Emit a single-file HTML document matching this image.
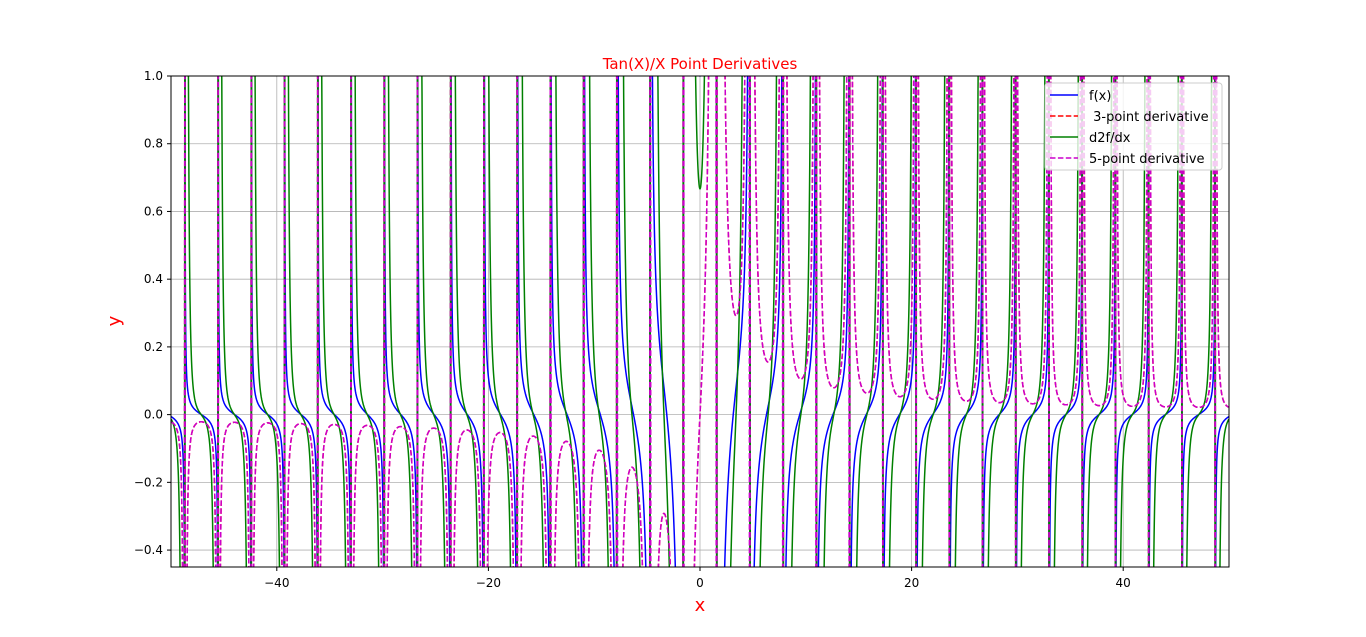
<!DOCTYPE html>
<html><head><meta charset="utf-8"><style>
html,body{margin:0;background:#fff;overflow:hidden;width:1366px;height:637px;}
svg{display:block;}
svg text{font-family:"DejaVu Sans","Liberation Sans",sans-serif;}
</style></head><body>
<svg width="1366" height="637" xmlns="http://www.w3.org/2000/svg">
<defs><clipPath id="pc"><rect x="171" y="76" width="1058" height="491"/></clipPath></defs>
<rect x="0" y="0" width="1366" height="637" fill="#fff"/>
<g id="grid"></g>
<g id="series" clip-path="url(#pc)"></g>
<rect x="171" y="76" width="1058" height="491" fill="none" stroke="#000" stroke-width="1"/>
<g id="ticks"></g>
<text x="700" y="69" text-anchor="middle" font-size="15" fill="red">Tan(X)/X Point Derivatives</text>
<text x="700" y="611" text-anchor="middle" font-size="18" fill="red">x</text>
<text x="120" y="321" text-anchor="middle" font-size="18" fill="red" transform="rotate(-90 120 321)">y</text>
<g>
<rect x="1045" y="83" width="177" height="87" rx="3" fill="#fff" fill-opacity="0.8" stroke="#ccc"/>
<g><line x1="1050" x2="1078" y1="95" y2="95" stroke="blue" stroke-width="1.5"/><text x="1089" y="100" font-size="13">f(x)</text></g>
<g><line x1="1050" x2="1078" y1="116" y2="116" stroke="red" stroke-width="1.5" stroke-dasharray="5.5,2.4"/><text x="1089" y="121" font-size="13" xml:space="preserve"> 3-point derivative</text></g>
<g><line x1="1050" x2="1078" y1="137" y2="137" stroke="green" stroke-width="1.5"/><text x="1089" y="142" font-size="13">d2f/dx</text></g>
<g><line x1="1050" x2="1078" y1="158" y2="158" stroke="#c0c" stroke-width="1.5" stroke-dasharray="5.5,2.4"/><text x="1089" y="163" font-size="13">5-point derivative</text></g>
</g>
</svg>
<script>
const xTicks=[-40,-20,0,20,40];
const yTicks=[-0.4,-0.2,0.0,0.2,0.4,0.6,0.8,1.0];
const xDomain=[-50,50];
const yDomain=[-0.45,1.0];
const nSamples=5000;
const NS='http://www.w3.org/2000/svg';
const X=v=>171+(v-xDomain[0])/(xDomain[1]-xDomain[0])*1058;
const Y=v=>567-(v-yDomain[0])/(yDomain[1]-yDomain[0])*491;
const grid=document.getElementById('grid'),ticks=document.getElementById('ticks'),ser=document.getElementById('series');
function mk(t,a,p){const e=document.createElementNS(NS,t);for(const k in a)e.setAttribute(k,a[k]);p.appendChild(e);return e;}
xTicks.forEach(v=>{
 const g=mk('line',{x1:X(v),x2:X(v),y1:76,y2:567,stroke:'#b0b0b0','stroke-width':0.8},grid);
 
 
 mk('line',{x1:X(v),x2:X(v),y1:567,y2:571,stroke:'#000'},ticks);
 const t=mk('text',{x:X(v),y:587,'text-anchor':'middle','font-size':12},ticks);
 t.textContent=v<0?'\u2212'+Math.abs(v):String(v);
 
 
});
yTicks.forEach(v=>{
 const g=mk('line',{x1:171,x2:1229,y1:Y(v),y2:Y(v),stroke:'#b0b0b0','stroke-width':0.8},grid);
 
 
 mk('line',{x1:167,x2:171,y1:Y(v),y2:Y(v),stroke:'#000'},ticks);
 const t=mk('text',{x:163,y:Y(v)+4,'text-anchor':'end','font-size':12},ticks);
 t.textContent=(v<0?'\u2212':'')+Math.abs(v).toFixed(1);
 
 
});
const f=x=>Math.tan(x)/x;
const h=(xDomain[1]-xDomain[0])/(nSamples-1);
const xs=[];for(let i=0;i<nSamples;i++)xs.push(xDomain[0]+i*h);
const fv=xs.map(f);
const d3=fv.map((v,i)=>(i>1&&i<nSamples-2)?(fv[i+1]-fv[i-1])/(2*h):NaN);
const d5=fv.map((v,i)=>(i>1&&i<nSamples-2)?(-fv[i+2]+8*fv[i+1]-8*fv[i-1]+fv[i-2])/(12*h):NaN);
const d2=fv.map((v,i)=>(i>0&&i<nSamples-1)?(fv[i+1]-2*fv[i]+fv[i-1])/(h*h):NaN);
function draw(vals,color,dash,name){
 const lo=66,hi=577;
 let d='',c='',pen=false,prev=null;
 vals.forEach((v,i)=>{
  if(!isFinite(v)){return;}
  const raw=Y(v),px=X(xs[i]).toFixed(2);
  const py=Math.max(lo,Math.min(hi,raw));
  const inside=raw>=lo&&raw<=hi;
  if(prev && !prev[2] && !inside && prev[1]!==py){
   c+='M'+prev[0]+' '+prev[1]+'L'+px+' '+py.toFixed(1);
  }
  if(inside){
   if(!pen){ if(prev)d+='M'+prev[0]+' '+prev[1]+'L'+px+' '+py.toFixed(1); else d+='M'+px+' '+py.toFixed(1); pen=true; }
   else d+='L'+px+' '+py.toFixed(1);
  } else {
   if(pen){d+='L'+px+' '+py.toFixed(1);pen=false;}
  }
  prev=[px,py.toFixed(1),inside];
  prev[1]=py.toFixed(1);
 });
 const p=mk('path',{d:d,fill:'none',stroke:color,'stroke-width':1.5},ser);
 if(dash)p.setAttribute('stroke-dasharray','5.5,2.4');
 
 
 if(c){
  const q=mk('path',{d:c,fill:'none',stroke:color,'stroke-width':1.5},ser);
  if(dash)q.setAttribute('stroke-dasharray','5.5,2.4');
  
  
 }
}
draw(fv,'blue',false,'series-fx');
draw(d3,'red',true,'series-3-point-derivative');
draw(d2,'green',false,'series-d2f-dx');
draw(d5,'#c0c',true,'series-5-point-derivative');
</script>
</body></html>
